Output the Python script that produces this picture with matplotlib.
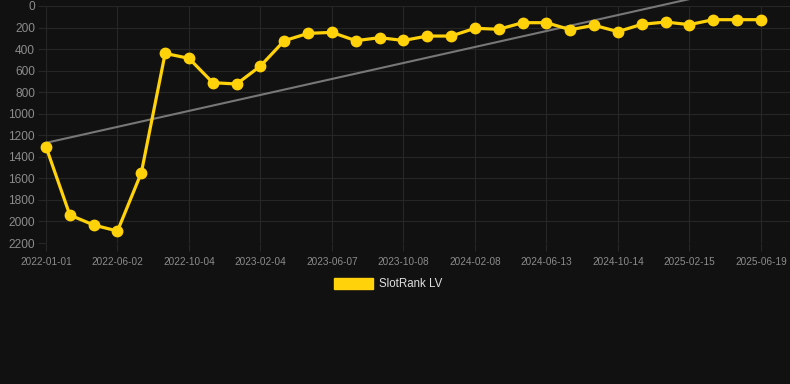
import numpy as np
import matplotlib
matplotlib.use("Agg")
import matplotlib.pyplot as plt
from matplotlib.patches import Patch

# data (rank, lower is better)
dates = ['2022-01-01', '2022-06-02', '2022-10-04', '2023-02-04', '2023-06-07',
         '2023-10-08', '2024-02-08', '2024-06-13', '2024-10-14', '2025-02-15',
         '2025-06-19']
rank = [1307, 1940, 2033, 2089, 1548, 440, 486, 712, 724, 557,
        322, 254, 245, 322, 294, 320, 279, 279, 207, 216,
        155, 155, 220, 179, 238, 170, 149, 173, 127, 127, 127]
series_name = 'SlotRank LV'

bg = '#111111'
grid = '#262626'
yellow = '#FFD20A'

plt.rcParams['font.family'] = ['Liberation Sans', 'DejaVu Sans']

fig = plt.figure(figsize=(7.9, 3.84), dpi=100, facecolor=bg)
ax = fig.add_axes([46/790, 141/384, 744/790, 237/384])
ax.set_facecolor(bg)

x = np.arange(len(rank))

# trend line (linear fit) - not clipped at the plot top, runs to the image edge
k, b = np.polyfit(x, rank, 1)
ax.plot(x, k*x + b, color='#777777', lw=1.5, zorder=2, clip_on=False)

# rank line, first marker sits on the left edge so don't clip it
ax.plot(x, rank, color=yellow, lw=2.3, marker='o', ms=7.5, zorder=3, clip_on=False)

ax.set_xlim(0, 744/23.83)
ax.set_ylim(2200, 0)
ax.set_yticks(range(0, 2201, 200))
ax.set_xticks(x[::3])
ax.set_xticklabels(dates)

ax.grid(True, color=grid, lw=0.8)
for s in ax.spines.values():
    s.set_visible(False)
ax.tick_params(axis='y', colors=grid, length=6, width=0.8, labelcolor='#8c8c8c', labelsize=8.6, pad=2)
ax.tick_params(axis='x', colors=grid, length=6, width=0.8, labelcolor='#8c8c8c', labelsize=7.2, pad=4)

fig.legend(handles=[Patch(facecolor=yellow, edgecolor=yellow, label=series_name)],
           loc='center', bbox_to_anchor=(388/790, 1 - 284/384), frameon=False,
           fontsize=8.3, labelcolor='#e0e0e0', handlelength=3.4, handleheight=1.2,
           handletextpad=0.5)

fig.savefig('out.png', dpi=100, facecolor=bg)
